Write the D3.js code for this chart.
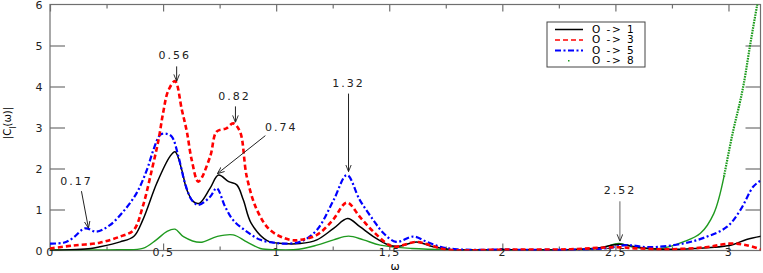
<!DOCTYPE html>
<html><head><meta charset="utf-8">
<script src="https://cdn.jsdelivr.net/npm/d3@7"></script>
<style>body{margin:0;background:#fff}</style>
</head><body>
<svg id="c" width="763" height="273"></svg>
<script>
// ---- data ----
const w1 = [0,0.18,0.22,0.31,0.37,0.41,0.472,0.53,0.553,0.583,0.605,0.634,0.66,0.708,0.745,0.79,0.826,0.855,0.89,0.96,1.03,1.106,1.18,1.254,1.316,1.37,1.43,1.50,1.55,1.62,1.695,1.78,2.0,2.3,2.42,2.52,2.6,2.7,2.85,3.01,3.08,3.146];
const c1 = [0,0.05,0.09,0.21,0.34,0.74,1.64,2.29,2.41,1.96,1.48,1.19,1.15,1.52,1.84,1.68,1.6,1.23,0.66,0.24,0.17,0.17,0.26,0.54,0.78,0.58,0.34,0.13,0.11,0.21,0.09,0.02,0.02,0.02,0.06,0.15,0.08,0.03,0.05,0.13,0.27,0.35];

const w3 = [0,0.1,0.22,0.31,0.37,0.41,0.45,0.48,0.50,0.523,0.553,0.583,0.605,0.627,0.656,0.708,0.737,0.78,0.81,0.84,0.87,0.915,0.973,1.06,1.106,1.18,1.25,1.313,1.37,1.43,1.50,1.53,1.62,1.68,1.755,2.0,2.3,2.5,2.6,2.73,2.9,3.01,3.08,3.146];
const c3 = [0.05,0.12,0.19,0.34,0.5,1.07,1.96,2.7,3.35,3.9,4.13,3.43,2.9,2.2,1.68,2.29,2.9,2.98,3.1,2.9,1.8,0.99,0.5,0.26,0.26,0.38,0.74,1.17,0.82,0.46,0.13,0.09,0.21,0.13,0.02,0.02,0.03,0.08,0.05,0.03,0.08,0.17,0.13,0.02];

const w5 = [0,0.06,0.10,0.155,0.206,0.265,0.324,0.383,0.428,0.457,0.487,0.51,0.538,0.568,0.597,0.627,0.656,0.708,0.737,0.774,0.81,0.87,0.93,0.99,1.03,1.106,1.18,1.254,1.313,1.37,1.43,1.475,1.53,1.607,1.667,1.726,1.8,2.0,2.3,2.45,2.55,2.65,2.80,2.906,2.994,3.053,3.11,3.146];
const c5 = [0.17,0.19,0.3,0.54,0.46,0.62,0.95,1.4,1.96,2.45,2.82,2.85,2.78,2.29,1.64,1.23,1.11,1.31,1.52,1.07,0.74,0.46,0.26,0.19,0.17,0.21,0.5,1.23,1.84,1.23,0.74,0.42,0.21,0.34,0.21,0.09,0.03,0.02,0.02,0.05,0.13,0.08,0.17,0.34,0.58,0.99,1.56,1.72];

const w8 = [0,0.3,0.41,0.47,0.516,0.553,0.59,0.664,0.737,0.81,0.87,0.93,1.0,1.1,1.18,1.254,1.32,1.386,1.46,1.6,1.8,2.2,2.43,2.515,2.58,2.70,2.80,2.876,2.935,2.98,3.02,3.05,3.068,3.097,3.127,3.146];
const c8 = [0.02,0.02,0.05,0.26,0.46,0.52,0.34,0.2,0.34,0.38,0.21,0.05,0.02,0.03,0.13,0.26,0.35,0.26,0.13,0.05,0.02,0.02,0.05,0.17,0.08,0.05,0.21,0.42,0.9,1.8,2.9,3.6,4.08,5.05,5.99,6.5];

const seriesNames = ["O -> 1","O -> 3","O -> 5","O -> 8"];
const xTickValues = [0,0.5,1,1.5,2,2.5,3];
const xTickLabels = ["0","0,5","1","1,5","2","2,5","3"];
const yTickValues = [0,1,2,3,4,5,6];

const annoLabels = ["0.17","0.56","0.74","0.82","1.32","2.52"];
const annoOmega  = [0.17,0.56,0.74,0.82,1.32,2.52];
const annoValue  = [0.52,4.1,1.85,3.1,1.9,0.2];

// ---- layout ----
const svg = d3.select("#c");
const L = 50, R = 760.5, T = 4.5, B = 250.5;
const x = d3.scaleLinear().domain([0, Math.PI]).range([L, R]);
const y = d3.scaleLinear().domain([0, 6]).range([B, T]);
const axisCol = "#6f6f6f";
const font = "DejaVu Sans, sans-serif";

svg.append("clipPath").attr("id","clip").append("rect")
  .attr("x",L).attr("y",T).attr("width",R-L).attr("height",B-T);

// frame
svg.append("rect").attr("x",L).attr("y",T).attr("width",R-L).attr("height",B-T)
  .attr("fill","none").attr("stroke",axisCol).attr("stroke-width",1.2);

// x ticks (inward, bottom and top)
const xMinor = d3.range(0.25, Math.PI, 0.5);
const gb = svg.append("g").attr("transform",`translate(0,${B})`)
  .call(d3.axisBottom(x).tickValues(xTickValues).tickSizeInner(-7).tickSizeOuter(0)
        .tickFormat((d,i)=>xTickLabels[i]));
const gbm = svg.append("g").attr("transform",`translate(0,${B})`)
  .call(d3.axisBottom(x).tickValues(xMinor).tickSizeInner(-4).tickSizeOuter(0).tickFormat(""));
const gt = svg.append("g").attr("transform",`translate(0,${T})`)
  .call(d3.axisTop(x).tickValues(xTickValues).tickSizeInner(-7).tickSizeOuter(0).tickFormat(""));
const gtm = svg.append("g").attr("transform",`translate(0,${T})`)
  .call(d3.axisTop(x).tickValues(xMinor).tickSizeInner(-4).tickSizeOuter(0).tickFormat(""));
const gl = svg.append("g").attr("transform",`translate(${L},0)`)
  .call(d3.axisLeft(y).tickValues(yTickValues).tickSizeInner(-15).tickSizeOuter(0).tickPadding(6).tickFormat(d3.format("d")));
const gr = svg.append("g").attr("transform",`translate(${R},0)`)
  .call(d3.axisRight(y).tickValues(yTickValues.slice(1,6)).tickSizeInner(-15).tickSizeOuter(0).tickFormat(""));
[gb,gbm,gt,gtm,gl,gr].forEach(g=>{
  g.select(".domain").remove();
  g.selectAll("line").attr("stroke",axisCol).attr("stroke-width",1.2);
  g.selectAll("text").attr("fill","#222").style("font-family",font).style("font-size","11px").style("letter-spacing","1.5px");
});
gb.selectAll("text").attr("dy","0.2em");
gl.selectAll(".tick line").filter(d=>d===0||d===6).remove();

// axis labels
svg.append("text").attr("x",395).attr("y",270).attr("text-anchor","middle")
  .style("font-family",font).style("font-size","11px").text("ω");
const yl = svg.append("text").attr("transform","translate(11,123) rotate(-90)")
  .attr("text-anchor","middle").style("font-family",font).style("font-size","10px");
yl.append("tspan").text("|C");
yl.append("tspan").attr("baseline-shift","sub").style("font-size","8px").text("l");
yl.append("tspan").text("(ω)|");

// series
const line = d3.line().x(d=>x(d[0])).y(d=>y(d[1])).curve(d3.curveCatmullRom.alpha(0.5));
const plot = svg.append("g").attr("clip-path","url(#clip)");
const series = [
  {w:w8,c:c8,color:"#1f9a1f",width:1.4,dash:null},
  {w:w1,c:c1,color:"#000000",width:1.5,dash:null},
  {w:w5,c:c5,color:"#0000ff",width:2.2,dash:"6,2.5,2,2.5"},
  {w:w3,c:c3,color:"#ff0000",width:2.6,dash:"5,3"}
];
series.forEach((s,k)=>{
  const pts = d3.zip(s.w,s.c);
  if(k===0){
    // green: solid in the flat part, dotted in the steep rise (sparse points)
    const solid = pts.filter(p=>p[0]<=2.98), steep = pts.filter(p=>p[0]>=2.98);
    plot.append("path").datum(solid).attr("d",line).attr("fill","none")
      .attr("stroke",s.color).attr("stroke-width",s.width);
    plot.append("path").datum(steep).attr("d",line).attr("fill","none")
      .attr("stroke","#1a9a1a").attr("stroke-width",2.2).attr("stroke-dasharray","1.6,1");
    return;
  }
  plot.append("path").datum(pts).attr("d",line)
    .attr("fill","none").attr("stroke",s.color).attr("stroke-width",s.width)
    .attr("stroke-dasharray",s.dash).attr("stroke-linejoin","round");
});

// annotations
svg.append("defs").append("marker").attr("id","arr").attr("viewBox","0 0 10 10")
  .attr("refX",10).attr("refY",5).attr("markerWidth",7).attr("markerHeight",7)
  .attr("orient","auto-start-reverse")
  .append("path").attr("d","M0,1 L10,5 L0,9").attr("fill","none").attr("stroke","#222").attr("stroke-width",1.3);
const annoText = [[-12,-47],[-2,-26],[64,-47],[-1,-26],[0,-89],[0,-51]];
const annoStart = [[-7,-38],[0,-16],[48,-39],[0,-17],[0,-79],[0,-41]];
annoLabels.forEach((lab,i)=>{
  const px = x(annoOmega[i]), py = y(annoValue[i]);
  svg.append("text").attr("x",px+annoText[i][0]).attr("y",py+annoText[i][1]).attr("text-anchor","middle")
    .attr("dominant-baseline","middle").style("font-family",font).style("font-size","11px")
    .style("letter-spacing","2px").attr("fill","#222").text(lab);
  svg.append("line").attr("x1",px+annoStart[i][0]).attr("y1",py+annoStart[i][1])
    .attr("x2",px).attr("y2",py-1).attr("stroke", i===5?"#666":"#222").attr("stroke-width",1)
    .attr("marker-end","url(#arr)");
});

// legend
const lg = svg.append("g");
lg.append("rect").attr("x",547).attr("y",22).attr("width",98).attr("height",45)
  .attr("fill","#fff").attr("stroke","#444").attr("stroke-width",1);
const legStyle = [
  {color:"#000",width:1.5,dash:null},
  {color:"#ff0000",width:1.5,dash:"5,3"},
  {color:"#0000ff",width:2,dash:"6,2.5,2,2.5"},
  {color:"#1f9a1f",width:0,dash:null}
];
seriesNames.forEach((n,i)=>{
  const yy = 29.5 + i*10.5;
  if(i<3){
    lg.append("line").attr("x1",555).attr("x2",583).attr("y1",yy).attr("y2",yy)
      .attr("stroke",legStyle[i].color).attr("stroke-width",legStyle[i].width).attr("stroke-dasharray",legStyle[i].dash);
  } else {
    lg.append("rect").attr("x",568).attr("y",yy-1).attr("width",1.5).attr("height",1.5).attr("fill",legStyle[i].color);
  }
  lg.append("text").attr("x",592).attr("y",yy).attr("dominant-baseline","middle")
    .style("font-family",font).style("font-size","10.5px").style("letter-spacing","1.5px").text(n);
});
</script>
</body></html>
